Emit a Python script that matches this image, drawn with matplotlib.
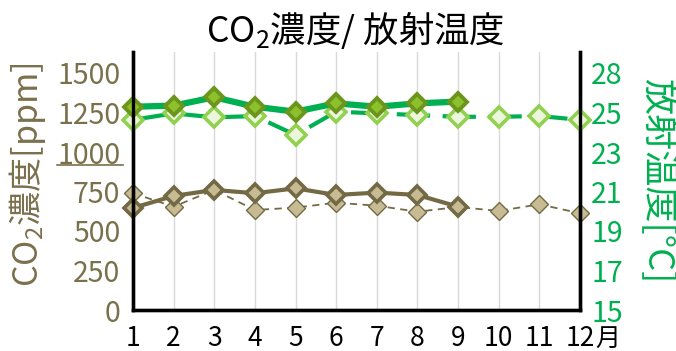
import numpy as np
import matplotlib
matplotlib.use("Agg")
import matplotlib.pyplot as plt
from matplotlib.lines import Line2D

plt.rcParams['font.family'] = ['Noto Sans CJK JP', 'DejaVu Sans']
plt.rcParams['mathtext.fontset'] = 'custom'
plt.rcParams['mathtext.rm'] = 'Noto Sans CJK JP'

months = [1, 2, 3, 4, 5, 6, 7, 8, 9, 10, 11, 12]
month_labels = ["1", "2", "3", "4", "5", "6", "7", "8", "9", "10", "11", "12"]

co2_current = [646, 722, 760, 739, 770, 728, 743, 728, 654]
co2_previous = [739, 654, 760, 633, 648, 679, 660, 622, 652, 627, 669, 612]
temp_current = [25.72, 25.78, 26.22, 25.72, 25.46, 25.90, 25.72, 25.90, 25.99]
temp_previous = [25.03, 25.37, 25.16, 25.23, 24.23, 25.46, 25.37, 25.28, 25.19, 25.19, 25.23, 25.03]

co2_ticks = [0, 250, 500, 750, 1000, 1250, 1500]
temp_min, temp_max = 15.0, 27.5

OLIVE = "#736a45"
OLIVE_TXT = "#7a704c"
KHAKI = "#c6bb93"
GREEN = "#00b050"
DARK_GREEN_EDGE = "#6b951d"
DARK_GREEN_FILL = "#8dc12b"
LIGHT_GREEN_EDGE = "#92d050"
LIGHT_GREEN_FILL = "#ecf6dd"

fig = plt.figure(figsize=(6.76, 3.51), dpi=100)
ax = fig.add_axes([133 / 676, 1 - 310 / 351, 447 / 676, 258 / 351])
ax2 = ax.twinx()

# CO2 concentration (left axis)
ax.plot(months[:len(co2_previous)], co2_previous, color=OLIVE, lw=1.3,
        dashes=(4, 3), marker='D', ms=9, mfc=KHAKI, mec=OLIVE, mew=1.0,
        clip_on=False, zorder=3)
ax.plot(months[:len(co2_current)], co2_current, color=OLIVE, lw=3.0,
        marker='D', ms=9, mfc=KHAKI, mec=OLIVE, mew=2.6,
        clip_on=False, zorder=4)

# radiant temperature (right axis)
ax2.plot(months[:len(temp_previous)], temp_previous, color=GREEN, lw=3.0,
         dashes=(8, 3), marker='D', ms=10, mfc=LIGHT_GREEN_FILL,
         mec=LIGHT_GREEN_EDGE, mew=2.6, clip_on=False, zorder=3)
ax2.plot(months[:len(temp_current)], temp_current, color=GREEN, lw=4.5,
         marker='D', ms=9, mfc=DARK_GREEN_FILL, mec=DARK_GREEN_EDGE, mew=2.8,
         clip_on=False, zorder=4)

top_frac = 258 / 237
ax.set_xlim(1, 12)
ax.set_ylim(0, 1500 * top_frac)
ax2.set_ylim(temp_min, temp_min + (temp_max - temp_min) * top_frac)

ax.set_xticks(months)
ax.set_xticklabels(month_labels)
ax.set_yticks(co2_ticks)
ax.set_yticklabels([str(v) for v in co2_ticks])
temp_ticks = np.linspace(temp_min, temp_max, 7)
ax2.set_yticks(temp_ticks)
ax2.set_yticklabels([f"{v:.0f}" for v in temp_ticks])

ax.grid(axis='x', color='#d9d9d9', lw=1.0)
ax.set_axisbelow(True)

ax.tick_params(axis='x', length=0, pad=11, labelsize=19, colors='black')
ax.tick_params(axis='y', length=0, pad=9, labelsize=20.5, colors=OLIVE_TXT)
ax2.tick_params(axis='y', length=0, pad=8, labelsize=20.5, colors=GREEN)

for a in (ax, ax2):
    a.spines['top'].set_visible(False)
    for s in ('left', 'right', 'bottom'):
        a.spines[s].set_linewidth(2.4)
        a.spines[s].set_color('black')
        a.spines[s].set_zorder(5)

# unit suffix after the last month label
ax.annotate("月", xy=(12, 0), xycoords='data', xytext=(11, -21),
            textcoords='offset points', ha='left', va='center',
            fontsize=18, color='black', annotation_clip=False)

fig.text(28 / 676, 1 - 175 / 351, r"CO$_\mathregular{2}$濃度[ppm]",
         rotation=90, ha='center', va='center', fontsize=24.5, color=OLIVE_TXT)
fig.text(658 / 676, 1 - 181 / 351, "放射温度[°C]", rotation=270,
         ha='center', va='center', fontsize=26, color=GREEN)

# short rule beneath the 1000 tick label
ax.add_line(Line2D([-0.170, -0.022], [0.562, 0.562], transform=ax.transAxes,
                   color=OLIVE_TXT, lw=1.2, clip_on=False))

fig.text(355 / 676, 1 - 30 / 351, r"CO$_\mathregular{2}$濃度/ 放射温度",
         ha='center', va='center', fontsize=25.5, color='black')

fig.savefig("out.png", dpi=100)
